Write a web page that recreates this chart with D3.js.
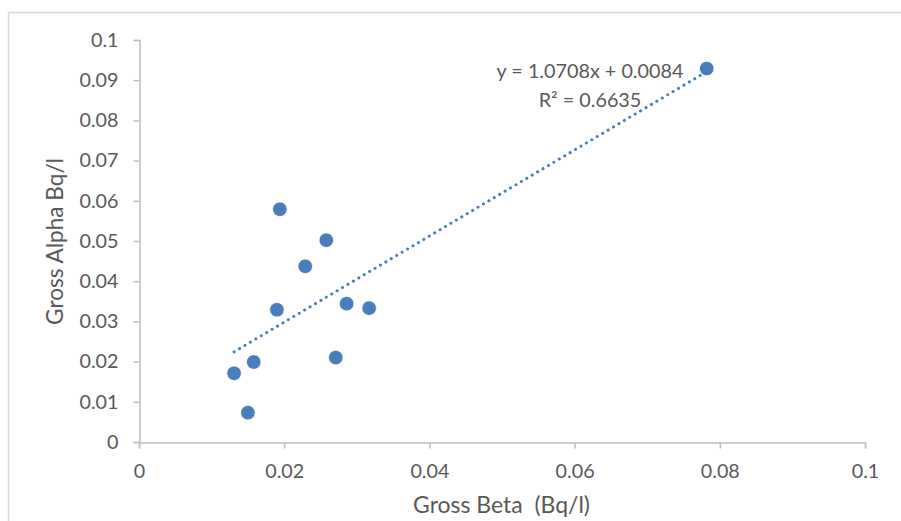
<!DOCTYPE html>
<html>
<head>
<meta charset="utf-8">
<script src="https://cdn.jsdelivr.net/npm/d3@7"></script>
<style>
    body { margin: 0; background: #fff; }
    svg text { font-family: Lato, "Open Sans", sans-serif; fill: #595959; }
</style>
</head>
<body>
<div id="chart"></div>
<script>
// Data
var grossBeta  = [0.0131, 0.0150, 0.0158, 0.0190, 0.0194, 0.0229, 0.0258, 0.0271, 0.0286, 0.0317, 0.0782];
var grossAlpha = [0.0171, 0.0073, 0.0199, 0.0329, 0.0579, 0.0437, 0.0502, 0.0210, 0.0344, 0.0333, 0.0929];
var xTicks = [0, 0.02, 0.04, 0.06, 0.08, 0.1];
var yTicks = [0, 0.01, 0.02, 0.03, 0.04, 0.05, 0.06, 0.07, 0.08, 0.09, 0.1];
var trendSlope = 1.0708,
    trendIntercept = 0.0084,
    trendR2 = 0.6635;

var width = 901,
    height = 521;
var margin = {top: 40, right: 36, bottom: 79, left: 139};

var svg = d3.select('#chart')
    .append('svg')
    .attr('width', width)
    .attr('height', height);

// Chart border (cropped at right and bottom)
svg.append('rect')
    .attr('x', 8.5)
    .attr('y', 12.5)
    .attr('width', width)
    .attr('height', height)
    .attr('fill', 'none')
    .attr('stroke', '#d9d9d9')
    .attr('stroke-width', 1.5);

var x = d3.scaleLinear().domain([0, 0.1]).range([margin.left, width - margin.right]);
var y = d3.scaleLinear().domain([0, 0.1]).range([height - margin.bottom, margin.top]);

// scale a text's font so it spans the wanted width
function fitText(sel, target) {
    var base = 20;
    sel.style('font-size', base + 'px');
    var w = sel.node().getComputedTextLength();
    var size = base * target / w;
    sel.style('font-size', size + 'px');
    return size;
}

var tickFormat = function(d) { return String(+d.toFixed(2)); };

// Y axis
var yAxis = d3.axisLeft(y).tickValues(yTicks).tickSize(6).tickPadding(15).tickFormat(tickFormat);
var gy = svg.append('g')
    .attr('transform', 'translate(' + (margin.left + 0.5) + ',0)')
    .call(yAxis);

// X axis
var xAxis = d3.axisBottom(x).tickValues(xTicks).tickSize(6).tickPadding(15).tickFormat(tickFormat);
var gx = svg.append('g')
    .attr('transform', 'translate(0,' + (y(0) + 0.5) + ')')
    .call(xAxis);

var tickSize = fitText(gy.selectAll('.tick text').filter(function(d) { return d === 0.09; }), 39);

[gx, gy].forEach(function(g) {
    g.select('.domain').attr('stroke', '#bfbfbf').attr('stroke-width', 1.5);
    g.selectAll('.tick line').attr('stroke', '#bfbfbf').attr('stroke-width', 1.5);
    g.selectAll('.tick text').style('font-size', tickSize + 'px').attr('fill', '#595959');
});

// Trendline
var xMin = d3.min(grossBeta), xMax = d3.max(grossBeta);
svg.append('line')
    .attr('x1', x(xMin))
    .attr('y1', y(trendSlope * xMin + trendIntercept))
    .attr('x2', x(xMax))
    .attr('y2', y(trendSlope * xMax + trendIntercept))
    .attr('stroke', '#4a7ebb')
    .attr('stroke-width', 3)
    .attr('stroke-linecap', 'round')
    .attr('stroke-dasharray', '0.1 6.2');

// Points
svg.selectAll('.pt')
    .data(grossBeta)
    .enter()
    .append('circle')
    .attr('class', 'pt')
    .attr('cx', function(d) { return x(d); })
    .attr('cy', function(d, i) { return y(grossAlpha[i]); })
    .attr('r', 7.3)
    .attr('fill', '#4a7ebb')
    .attr('stroke', '#fff')
    .attr('stroke-width', 0.8);

// Trend equation
var eq = svg.append('text')
    .attr('x', 590)
    .attr('y', 78)
    .attr('text-anchor', 'middle')
    .text('y = ' + trendSlope + 'x + ' + trendIntercept);
var eqSize = fitText(eq, 187);
svg.append('text')
    .attr('x', 590)
    .attr('y', 107)
    .attr('text-anchor', 'middle')
    .style('font-size', eqSize + 'px')
    .text('R² = ' + trendR2);

// Axis titles
var xTitle = svg.append('text')
    .attr('x', 501.5)
    .attr('y', 513)
    .attr('text-anchor', 'middle')
    .text('Gross Beta\u00a0\u00a0(Bq/l)');
fitText(xTitle, 177);

var yTitle = svg.append('text')
    .attr('transform', 'translate(63,241.5) rotate(-90)')
    .attr('text-anchor', 'middle')
    .text('Gross Alpha Bq/l');
fitText(yTitle, 167);
</script>
</body>
</html>
